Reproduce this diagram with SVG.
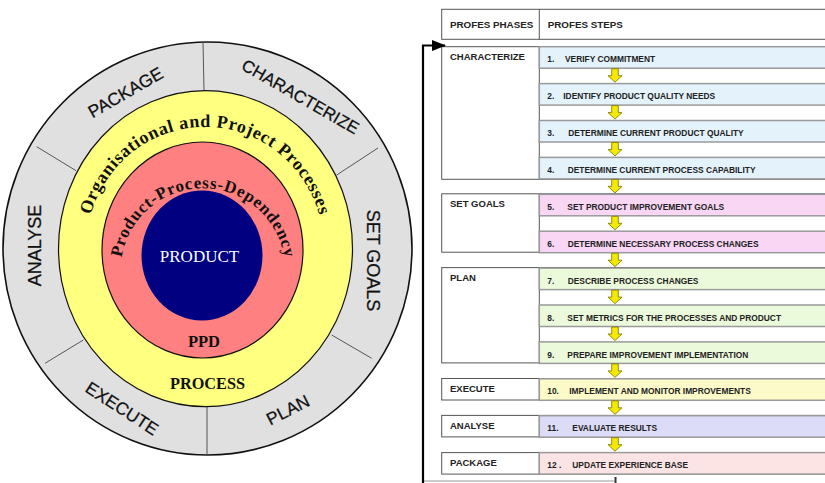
<svg xmlns="http://www.w3.org/2000/svg" xmlns:xlink="http://www.w3.org/1999/xlink" width="825" height="483" viewBox="0 0 825 483">
<style>
.ring{font-family:"Liberation Sans",Arial,sans-serif;font-size:17.5px;fill:#111;text-anchor:middle;stroke:#111;stroke-width:0.25}
.ser{font-family:"Liberation Serif","Times New Roman",serif;font-weight:bold;fill:#111}
.hdr{font-family:"Liberation Sans",Arial,sans-serif;font-weight:bold;font-size:9.8px;fill:#222}
.ph{font-family:"Liberation Sans",Arial,sans-serif;font-weight:bold;font-size:9.5px;fill:#222}
.st{font-family:"Liberation Sans",Arial,sans-serif;font-weight:bold;font-size:8.4px;fill:#222}
.box{fill:#fff;stroke:#555;stroke-width:1}
.div{stroke:#555;stroke-width:1}
.step{stroke:#9a9a9a;stroke-width:1.5}
.blue{fill:#e4f2fc}.pink{fill:#f8d6f4}.green{fill:#ecfadc}.yel{fill:#fcfac8}.lav{fill:#dcdcf8}.red{fill:#fce4e4}
.seg{stroke:#555;stroke-width:1}
</style>
<defs>
<path id="down" d="M-3.3,0.5 H3.3 V7.5 H7 L0,14 L-7,7.5 H-3.3 Z" fill="#f4ea00" stroke="#7a7000" stroke-width="0.8"/>
<path id="arcOuter" d="M93.2,290.7 A119,122 0 1 1 316.8,290.7"/>
<path id="arcInner" d="M120.5,271 A82.5,82.7 0 1 1 285.5,271"/>
<marker id="head" viewBox="0 0 14 11" refX="13" refY="5.5" markerWidth="14" markerHeight="11" markerUnits="userSpaceOnUse" orient="auto">
<path d="M0,0 L14,5.5 L0,11 Z" fill="#000"/>
</marker>
</defs>

<g id="profes-cycle">
<ellipse cx="207.5" cy="248.5" rx="204.5" ry="206.5" fill="#e0e0e0" stroke="#111" stroke-width="1.6"/>
<line class="seg" x1="203" y1="42" x2="204" y2="91"/>
<line class="seg" x1="207" y1="407" x2="207" y2="455"/>
<line class="seg" x1="36.7" y1="146.7" x2="76" y2="170.7"/>
<line class="seg" x1="336.7" y1="175" x2="378" y2="148"/>
<line class="seg" x1="45" y1="363.3" x2="83.3" y2="340"/>
<line class="seg" x1="331.7" y1="335" x2="371.7" y2="358.3"/>
<ellipse cx="205.5" cy="248.7" rx="147" ry="158" fill="#ffff80" stroke="#111" stroke-width="1.2"/>
<ellipse cx="202.5" cy="250" rx="100.5" ry="108" fill="#ff8080" stroke="#111" stroke-width="1.2"/>
<ellipse cx="202" cy="255.5" rx="60.5" ry="65" fill="#000080"/>
</g>
<g id="phase-package-ring"><text class="ring" transform="translate(125.5,92.5) rotate(-30)" y="6">PACKAGE</text></g>
<g id="phase-characterize-ring"><text class="ring" style="font-size:17px" transform="translate(300.5,96.5) rotate(30)" y="6">CHARACTERIZE</text></g>
<g id="phase-setgoals-ring"><text class="ring" style="font-size:18px" transform="translate(372.5,260.5) rotate(90)" y="6">SET GOALS</text></g>
<g id="phase-plan-ring"><text class="ring" transform="translate(288,410) rotate(-27)" y="6">PLAN</text></g>
<g id="phase-execute-ring"><text class="ring" transform="translate(122,408.5) rotate(33)" y="6">EXECUTE</text></g>
<g id="phase-analyse-ring"><text class="ring" style="font-size:18px" transform="translate(35,245.5) rotate(-90)" y="6">ANALYSE</text></g>
<g id="layer-process">
<text class="ser" font-size="18"><textPath xlink:href="#arcOuter" href="#arcOuter" startOffset="50%" text-anchor="middle" textLength="310" lengthAdjust="spacing">Organisational and Project Processes</textPath></text>
<text class="ser" font-size="16.3" x="207.5" y="389" text-anchor="middle">PROCESS</text>
</g>
<g id="layer-ppd">
<text class="ser" font-size="17"><textPath xlink:href="#arcInner" href="#arcInner" startOffset="50%" text-anchor="middle" textLength="232" lengthAdjust="spacing">Product-Process-Dependency</textPath></text>
<text class="ser" font-size="16.5" x="204" y="347" text-anchor="middle">PPD</text>
</g>
<g id="layer-product">
<text font-family="Liberation Serif,'Times New Roman',serif" font-size="17" fill="#fff" x="199.5" y="262" text-anchor="middle">PRODUCT</text>
</g>

<g id="header">
<rect class="box" x="441.7" y="9.3" width="390" height="30"/>
<line class="div" x1="539.3" y1="9.3" x2="539.3" y2="39.3"/>
<text class="hdr" x="450" y="27.5">PROFES PHASES</text>
<text class="hdr" x="547.7" y="27.5">PROFES STEPS</text>
</g>

<g id="phase-characterize">
<rect class="box" x="441.7" y="46.7" width="390" height="132.6"/>
<line class="div" x1="539.3" y1="46.7" x2="539.3" y2="179.3"/>
<text class="ph" x="450" y="60">CHARACTERIZE</text>
</g>
<g id="phase-setgoals">
<rect class="box" x="441.7" y="193.8" width="390" height="58.4"/>
<line class="div" x1="539.3" y1="193.8" x2="539.3" y2="252.2"/>
<text class="ph" x="450" y="207.3">SET GOALS</text>
</g>
<g id="phase-plan">
<rect class="box" x="441.7" y="267.6" width="390" height="95.3"/>
<line class="div" x1="539.3" y1="267.6" x2="539.3" y2="362.9"/>
<text class="ph" x="450" y="281">PLAN</text>
</g>
<g id="phase-execute">
<rect class="box" x="441.7" y="378.5" width="390" height="21.5"/>
<line class="div" x1="539.3" y1="378.5" x2="539.3" y2="400"/>
<text class="ph" x="450" y="391.8">EXECUTE</text>
</g>
<g id="phase-analyse">
<rect class="box" x="441.7" y="415.4" width="390" height="21.5"/>
<line class="div" x1="539.3" y1="415.4" x2="539.3" y2="436.9"/>
<text class="ph" x="450" y="428.7">ANALYSE</text>
</g>
<g id="phase-package">
<rect class="box" x="441.7" y="452.6" width="390" height="21.5"/>
<line class="div" x1="539.3" y1="452.6" x2="539.3" y2="474.1"/>
<text class="ph" x="450" y="465.9">PACKAGE</text>
</g>

<g id="step-1"><rect class="step blue" x="539.3" y="46.7" width="292" height="21.5"/><text class="st" y="62.3"><tspan x="547.3">1.</tspan><tspan x="565">VERIFY COMMITMENT</tspan></text></g>
<g id="step-2"><rect class="step blue" x="539.3" y="83.6" width="292" height="21.5"/><text class="st" y="99.2"><tspan x="547.3">2.</tspan><tspan x="563.3">IDENTIFY PRODUCT QUALITY NEEDS</tspan></text></g>
<g id="step-3"><rect class="step blue" x="539.3" y="120.5" width="292" height="21.5"/><text class="st" y="136.1"><tspan x="547.3">3.</tspan><tspan x="568.3">DETERMINE CURRENT PRODUCT QUALITY</tspan></text></g>
<g id="step-4"><rect class="step blue" x="539.3" y="157.4" width="292" height="21.5"/><text class="st" y="173"><tspan x="547.3">4.</tspan><tspan x="567.7">DETERMINE CURRENT PROCESS CAPABILITY</tspan></text></g>
<g id="step-5"><rect class="step pink" x="539.3" y="194.3" width="292" height="21.5"/><text class="st" y="209.9"><tspan x="547.3">5.</tspan><tspan x="567.3">SET PRODUCT IMPROVEMENT GOALS</tspan></text></g>
<g id="step-6"><rect class="step pink" x="539.3" y="231.2" width="292" height="21.5"/><text class="st" y="246.8"><tspan x="547.3">6.</tspan><tspan x="567.7">DETERMINE NECESSARY PROCESS CHANGES</tspan></text></g>
<g id="step-7"><rect class="step green" x="539.3" y="268.1" width="292" height="21.5"/><text class="st" y="283.7"><tspan x="547.3">7.</tspan><tspan x="567.7">DESCRIBE PROCESS CHANGES</tspan></text></g>
<g id="step-8"><rect class="step green" x="539.3" y="305" width="292" height="21.5"/><text class="st" y="320.6"><tspan x="547.3">8.</tspan><tspan x="567.3">SET METRICS FOR THE PROCESSES AND PRODUCT</tspan></text></g>
<g id="step-9"><rect class="step green" x="539.3" y="341.9" width="292" height="21.5"/><text class="st" y="357.5"><tspan x="547.3">9.</tspan><tspan x="567.3">PREPARE IMPROVEMENT IMPLEMENTATION</tspan></text></g>
<g id="step-10"><rect class="step yel" x="539.3" y="378.8" width="292" height="21.5"/><text class="st" y="394.4"><tspan x="547.3">10.</tspan><tspan x="569.3">IMPLEMENT AND MONITOR IMPROVEMENTS</tspan></text></g>
<g id="step-11"><rect class="step lav" x="539.3" y="415.7" width="292" height="21.5"/><text class="st" y="431.3"><tspan x="547.3">11.</tspan><tspan x="572.3">EVALUATE RESULTS</tspan></text></g>
<g id="step-12"><rect class="step red" x="539.3" y="452.6" width="292" height="21.5"/><text class="st" y="468.2"><tspan x="547.3">12 .</tspan><tspan x="572.3">UPDATE EXPERIENCE BASE</tspan></text></g>

<g id="connectors">
<use href="#down" xlink:href="#down" x="615" y="68.2"/>
<use href="#down" xlink:href="#down" x="615" y="105.1"/>
<use href="#down" xlink:href="#down" x="615" y="142"/>
<use href="#down" xlink:href="#down" x="615" y="178.9"/>
<use href="#down" xlink:href="#down" x="615" y="215.8"/>
<use href="#down" xlink:href="#down" x="615" y="252.7"/>
<use href="#down" xlink:href="#down" x="615" y="289.6"/>
<use href="#down" xlink:href="#down" x="615" y="326.5"/>
<use href="#down" xlink:href="#down" x="615" y="363.4"/>
<use href="#down" xlink:href="#down" x="615" y="400.3"/>
<use href="#down" xlink:href="#down" x="615" y="437.2"/>
<line x1="423" y1="481" x2="614" y2="481" stroke="#999" stroke-width="1"/>
<line x1="615.5" y1="477" x2="615.5" y2="483" stroke="#333" stroke-width="2"/>
<polyline points="423,483 423,45.5 445,45.5" fill="none" stroke="#000" stroke-width="2.2" marker-end="url(#head)"/>
</g>
</svg>
